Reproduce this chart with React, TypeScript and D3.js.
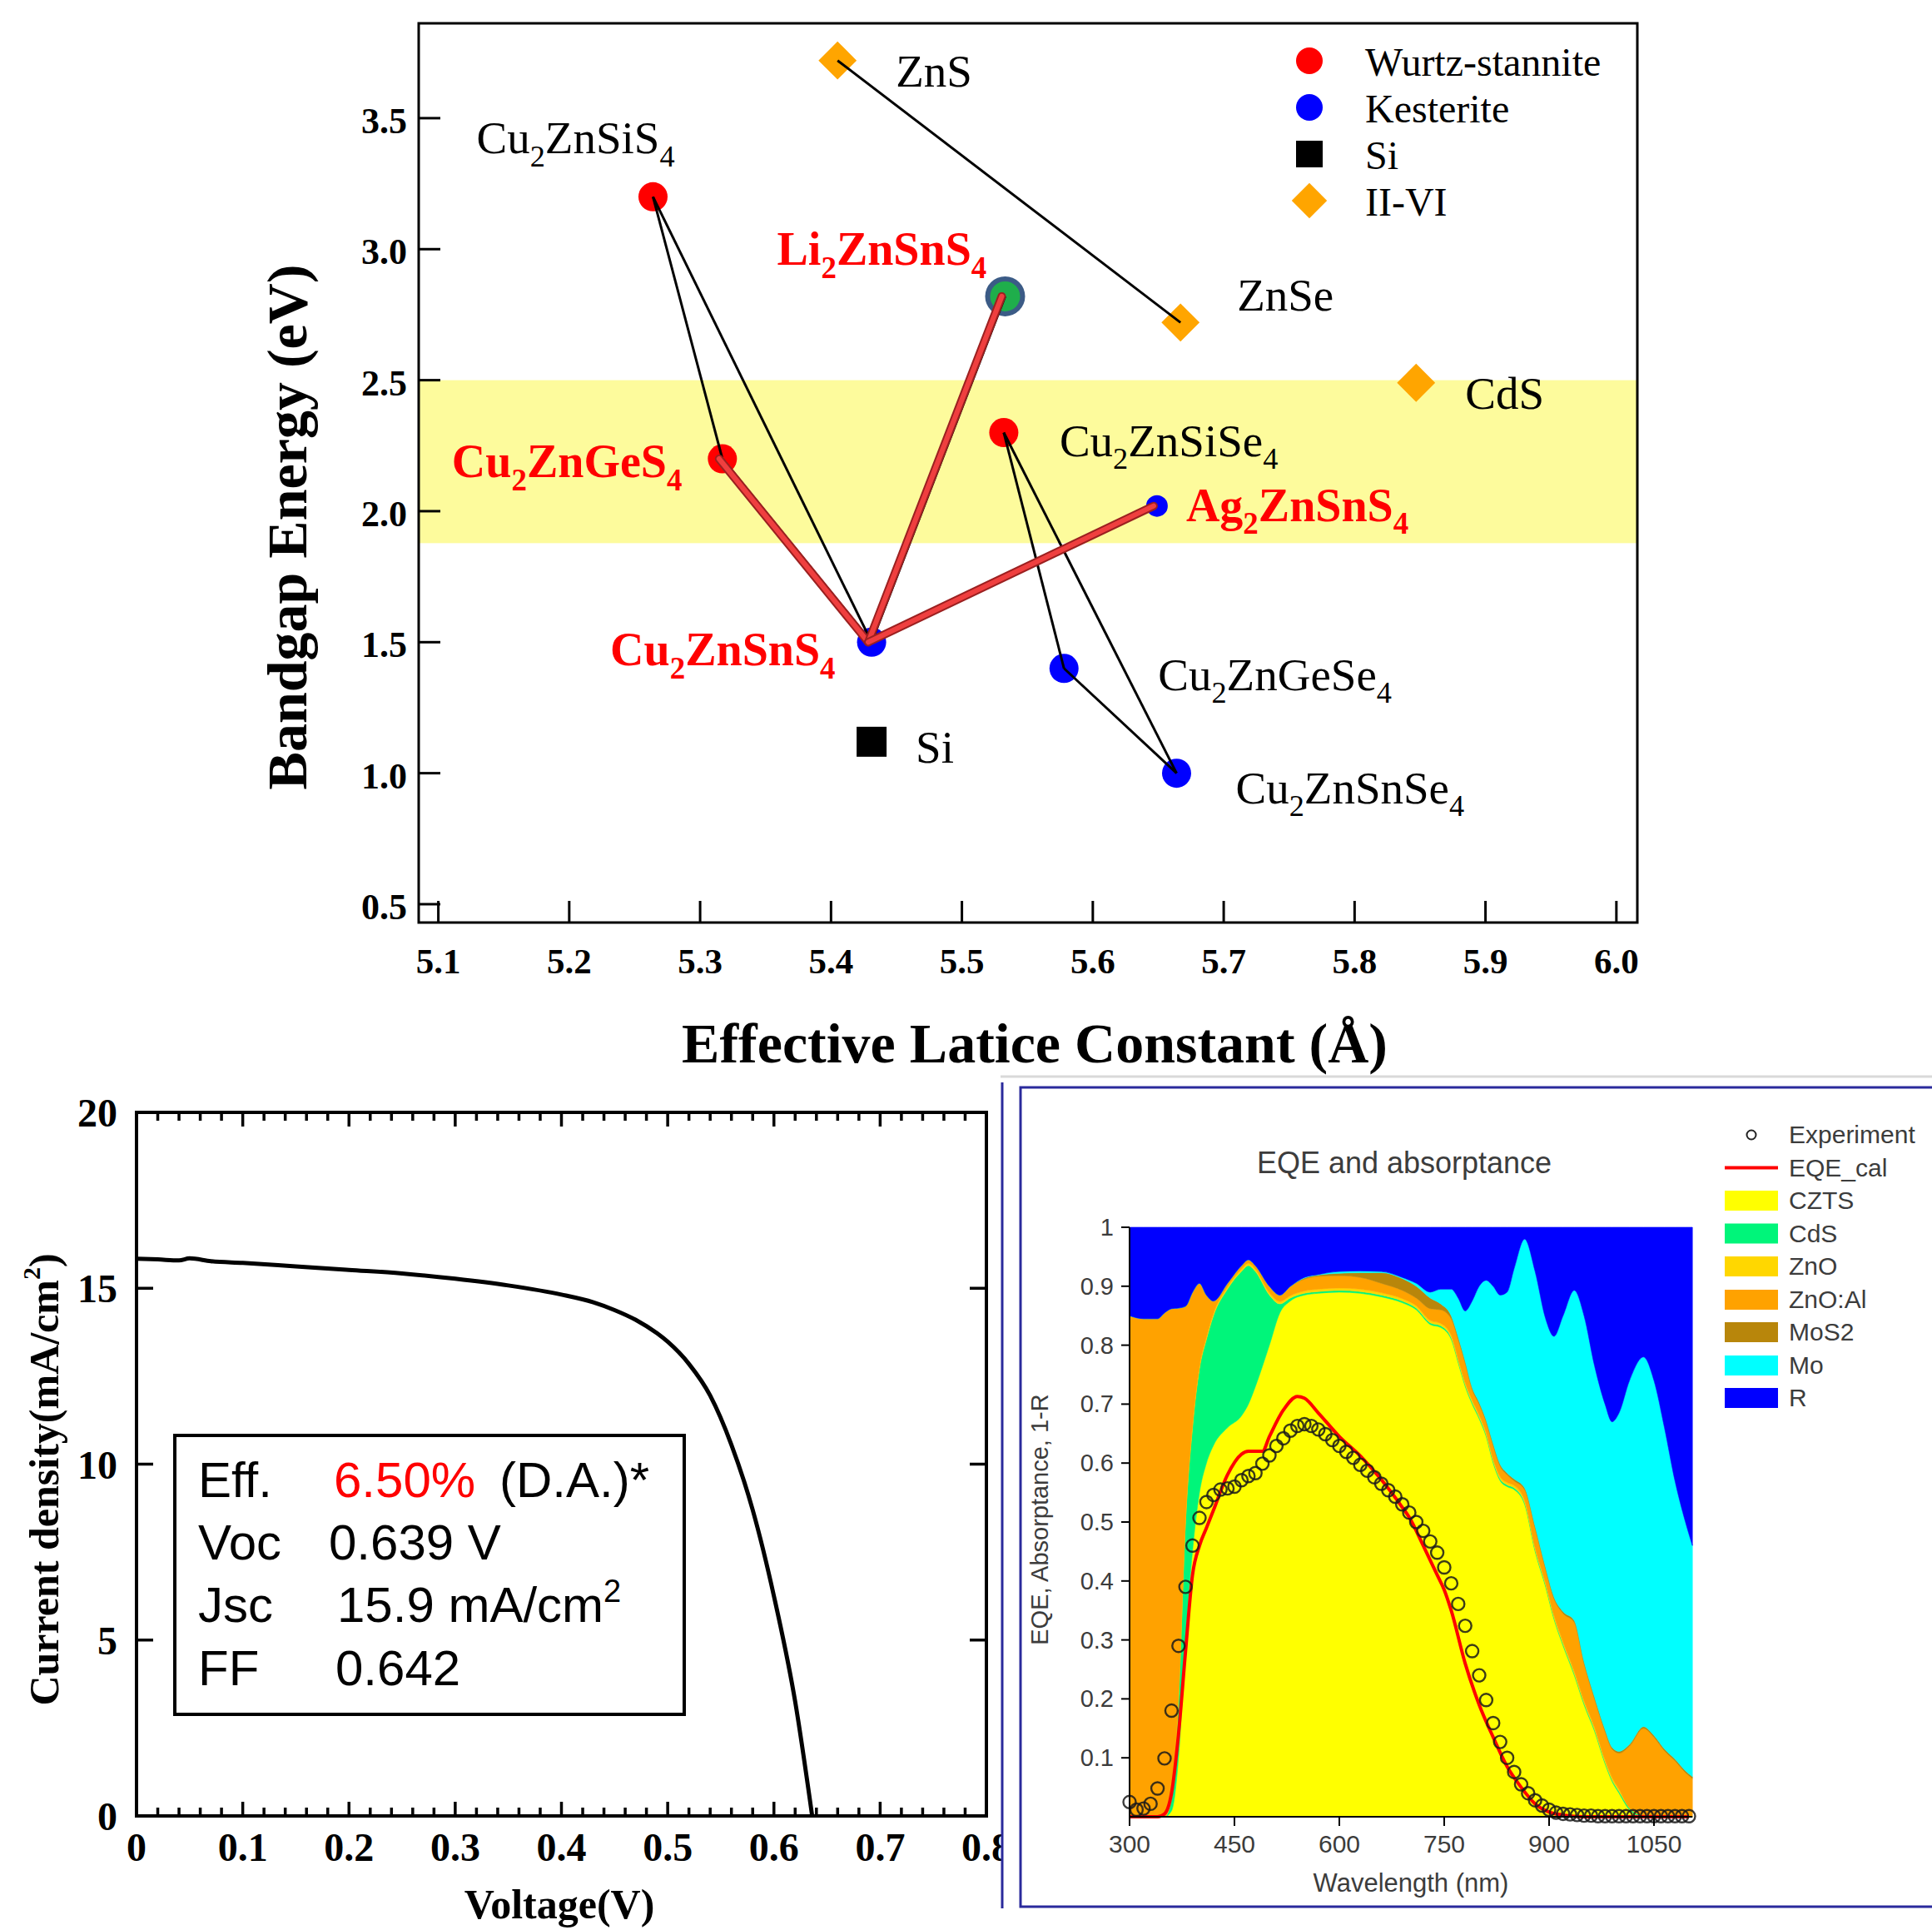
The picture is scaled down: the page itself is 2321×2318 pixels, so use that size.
import React from "react";
import * as d3 from "d3";

const W = 2321;
const H = 2318;
const SERIF = "'Liberation Serif', 'Times New Roman', serif";
const SANS = "'Liberation Sans', Arial, sans-serif";

/* ---------------- Top chart: bandgap vs effective lattice constant ---------------- */
const compounds = ["ZnS", "ZnSe", "CdS", "Cu2ZnSiS4", "Cu2ZnGeS4", "Li2ZnSnS4", "Cu2ZnSiSe4", "Ag2ZnSnS4", "Cu2ZnSnS4", "Cu2ZnGeSe4", "Cu2ZnSnSe4", "Si"];
const latticeConstant = [5.405, 5.667, 5.847, 5.264, 5.317, 5.533, 5.532, 5.649, 5.431, 5.578, 5.664, 5.431];
const bandgapEnergy = [3.72, 2.72, 2.49, 3.2, 2.2, 2.82, 2.3, 2.02, 1.5, 1.4, 1.0, 1.12];
const structureType = ["II-VI", "II-VI", "II-VI", "Wurtz-stannite", "Wurtz-stannite", "Li", "Wurtz-stannite", "Kesterite", "Kesterite", "Kesterite", "Kesterite", "Si"];
const highlighted = ["Cu2ZnGeS4", "Li2ZnSnS4", "Ag2ZnSnS4", "Cu2ZnSnS4"];
const blackLinks = [["ZnS", "ZnSe"], ["Cu2ZnSiS4", "Cu2ZnGeS4"], ["Cu2ZnSiS4", "Cu2ZnSnS4"], ["Cu2ZnGeS4", "Cu2ZnSnS4"], ["Cu2ZnSnS4", "Li2ZnSnS4"], ["Cu2ZnSiSe4", "Cu2ZnGeSe4"], ["Cu2ZnSiSe4", "Cu2ZnSnSe4"], ["Cu2ZnGeSe4", "Cu2ZnSnSe4"]];
const redLinks = [["Cu2ZnGeS4", "Cu2ZnSnS4"], ["Cu2ZnSnS4", "Li2ZnSnS4"], ["Cu2ZnSnS4", "Ag2ZnSnS4"]];
const bandgapTicks = [0.5, 1.0, 1.5, 2.0, 2.5, 3.0, 3.5];
const latticeTicks = [5.1, 5.2, 5.3, 5.4, 5.5, 5.6, 5.7, 5.8, 5.9, 6.0];
const targetBand = [1.878, 2.5];
const topLegend = ["Wurtz-stannite", "Kesterite", "Si", "II-VI"];

// label placement (pixel offsets from the point) — styling only
const labelOffset: Record<string, [number, number]> = {
  ZnS: [70, 31], ZnSe: [68, -14], CdS: [59, 31], Cu2ZnSiS4: [-212, -52], Cu2ZnGeS4: [-325, 22],
  Li2ZnSnS4: [-274, -38], Cu2ZnSiSe4: [67, 28], Ag2ZnSnS4: [35, 18], Cu2ZnSnS4: [-314, 28],
  Cu2ZnGeSe4: [113, 26], Cu2ZnSnSe4: [71, 36], Si: [53, 25],
};

/* ---------------- J-V curve ---------------- */
const voltage = [0, 0.02, 0.04, 0.05, 0.07, 0.1, 0.15, 0.2, 0.25, 0.3, 0.35, 0.4, 0.43, 0.45, 0.47, 0.49, 0.5, 0.52, 0.54, 0.56, 0.58, 0.6, 0.62, 0.636];
const currentDensity = [15.84, 15.82, 15.79, 15.85, 15.77, 15.72, 15.62, 15.52, 15.42, 15.27, 15.08, 14.82, 14.6, 14.38, 14.1, 13.72, 13.48, 12.85, 11.95, 10.55, 8.7, 6.25, 3.25, 0];
const jvXTicks = [0, 0.1, 0.2, 0.3, 0.4, 0.5, 0.6, 0.7, 0.8];
const jvYTicks = [0, 5, 10, 15, 20];

/* ---------------- EQE and absorptance ---------------- */
const wavelength = [300, 320, 340, 350, 360, 370, 380, 390, 400, 410, 420, 440, 460, 470, 480, 500, 515, 530, 550, 570, 600, 630, 660, 690, 710, 730, 745, 760, 770, 780, 790, 800, 810, 820, 830, 840, 850, 865, 880, 895, 907, 920, 936, 950, 965, 980, 990, 1000, 1015, 1035, 1050, 1065, 1080, 1095, 1105];
const absCZTS = [0, 0, 0, 0, 0.01, 0.1, 0.3, 0.45, 0.55, 0.6, 0.63, 0.66, 0.68, 0.7, 0.73, 0.8, 0.855, 0.875, 0.885, 0.888, 0.89, 0.888, 0.882, 0.872, 0.86, 0.835, 0.83, 0.81, 0.77, 0.73, 0.7, 0.675, 0.645, 0.6, 0.57, 0.56, 0.555, 0.53, 0.45, 0.39, 0.335, 0.29, 0.24, 0.19, 0.145, 0.09, 0.06, 0.04, 0.012, 0, 0, 0, 0, 0, 0];
const absCdS = [0, 0, 0, 0, 0.02, 0.1, 0.2, 0.21, 0.21, 0.21, 0.22, 0.235, 0.245, 0.235, 0.195, 0.085, 0.015, 0.005, 0.003, 0.003, 0.003, 0.003, 0.003, 0.003, 0.003, 0.003, 0.003, 0.003, 0.003, 0.003, 0.003, 0.003, 0.003, 0.003, 0.003, 0.003, 0.003, 0.003, 0.003, 0.003, 0.003, 0.003, 0.003, 0.003, 0.003, 0.003, 0.003, 0.003, 0.003, 0.002, 0, 0, 0, 0, 0];
const absZnO = [0, 0, 0, 0, 0.004, 0.004, 0.004, 0.004, 0.004, 0.004, 0.004, 0.004, 0.004, 0.004, 0.004, 0.004, 0.004, 0.004, 0.004, 0.004, 0.004, 0.004, 0.004, 0.004, 0.004, 0.004, 0.004, 0.004, 0.004, 0.004, 0.004, 0.004, 0.004, 0.004, 0.004, 0.004, 0.004, 0.004, 0.004, 0.004, 0.004, 0.004, 0.004, 0.004, 0.004, 0.004, 0.004, 0.004, 0, 0, 0, 0, 0, 0, 0];
const absZnOAl = [0.85, 0.845, 0.845, 0.855, 0.828, 0.659, 0.362, 0.226, 0.141, 0.071, 0.021, 0.006, 0.006, 0.006, 0.006, 0.011, 0.011, 0.016, 0.02, 0.022, 0.021, 0.02, 0.016, 0.014, 0.013, 0.02, 0.023, 0.028, 0.033, 0.033, 0.018, 0.018, 0.018, 0.023, 0.018, 0.013, 0.008, 0.018, 0.033, 0.023, 0.028, 0.048, 0.083, 0.063, 0.048, 0.048, 0.048, 0.061, 0.105, 0.148, 0.135, 0.112, 0.095, 0.075, 0.065];
const absMoS2 = [0, 0, 0, 0, 0, 0, 0, 0, 0, 0, 0, 0, 0, 0, 0, 0, 0, 0, 0.002, 0.002, 0.004, 0.008, 0.018, 0.02, 0.02, 0.018, 0.01, 0.005, 0.004, 0.003, 0.003, 0.003, 0.003, 0.003, 0.003, 0.003, 0.003, 0.003, 0.003, 0.003, 0.003, 0.003, 0.003, 0.003, 0.003, 0.003, 0.003, 0.003, 0.003, 0.003, 0.003, 0.003, 0.003, 0.003, 0.003];
const absMo = [0, 0, 0, 0, 0, 0, 0, 0, 0, 0, 0, 0, 0, 0, 0, 0, 0, 0, 0.001, 0.001, 0.003, 0.003, 0.002, 0.002, 0.005, 0.01, 0.025, 0.045, 0.066, 0.085, 0.147, 0.197, 0.237, 0.267, 0.287, 0.307, 0.357, 0.422, 0.432, 0.422, 0.442, 0.502, 0.56, 0.587, 0.562, 0.552, 0.552, 0.574, 0.617, 0.627, 0.602, 0.545, 0.472, 0.422, 0.392];
const reflectance = [0.15, 0.155, 0.155, 0.145, 0.138, 0.137, 0.134, 0.11, 0.095, 0.115, 0.125, 0.095, 0.065, 0.055, 0.065, 0.1, 0.115, 0.1, 0.085, 0.08, 0.075, 0.074, 0.075, 0.085, 0.095, 0.11, 0.105, 0.105, 0.12, 0.142, 0.125, 0.1, 0.09, 0.1, 0.115, 0.11, 0.07, 0.02, 0.075, 0.155, 0.185, 0.15, 0.107, 0.15, 0.235, 0.3, 0.33, 0.315, 0.26, 0.22, 0.26, 0.34, 0.43, 0.5, 0.54];

const calWavelength = [300, 340, 350, 360, 370, 380, 390, 400, 410, 420, 440, 460, 470, 480, 490, 500, 520, 540, 550, 570, 600, 630, 660, 690, 700, 720, 740, 750, 760, 780, 800, 820, 840, 860, 880, 900, 920, 950, 1000, 1100];
const eqeCal = [0, 0, 0.005, 0.04, 0.14, 0.28, 0.41, 0.46, 0.49, 0.52, 0.58, 0.615, 0.62, 0.62, 0.62, 0.645, 0.69, 0.713, 0.71, 0.685, 0.645, 0.612, 0.572, 0.525, 0.508, 0.46, 0.41, 0.385, 0.35, 0.26, 0.19, 0.135, 0.085, 0.05, 0.022, 0.008, 0.003, 0, 0, 0];

const expWavelength = [300, 310, 320, 330, 340, 350, 360, 370, 380, 390, 400, 410, 420, 430, 440, 450, 460, 470, 480, 490, 500, 510, 520, 530, 540, 550, 560, 570, 580, 590, 600, 610, 620, 630, 640, 650, 660, 670, 680, 690, 700, 710, 720, 730, 740, 750, 760, 770, 780, 790, 800, 810, 820, 830, 840, 850, 860, 870, 880, 890, 900, 910, 920, 930, 940, 950, 960, 970, 980, 990, 1000, 1010, 1020, 1030, 1040, 1050, 1060, 1070, 1080, 1090, 1100];
const expEQE = [0.025, 0.012, 0.014, 0.022, 0.048, 0.099, 0.18, 0.29, 0.39, 0.46, 0.507, 0.534, 0.546, 0.555, 0.557, 0.56, 0.571, 0.578, 0.583, 0.599, 0.613, 0.629, 0.642, 0.655, 0.663, 0.666, 0.663, 0.657, 0.649, 0.639, 0.629, 0.619, 0.609, 0.597, 0.587, 0.576, 0.565, 0.554, 0.543, 0.53, 0.516, 0.5, 0.485, 0.467, 0.448, 0.423, 0.396, 0.361, 0.324, 0.281, 0.24, 0.198, 0.159, 0.127, 0.1, 0.076, 0.055, 0.04, 0.028, 0.019, 0.012, 0.007, 0.005, 0.004, 0.003, 0.002, 0.002, 0.001, 0.001, 0.001, 0.001, 0.001, 0.001, 0.001, 0.001, 0.001, 0.001, 0.001, 0.001, 0.001, 0.001];

const layerKeys = ["CZTS", "CdS", "ZnO", "ZnO:Al", "MoS2", "Mo", "R"];
const layerValues = [absCZTS, absCdS, absZnO, absZnOAl, absMoS2, absMo, reflectance];
const layerColors = ["#ffff00", "#00f57a", "#ffd700", "#ffa200", "#b8860b", "#00ffff", "#0000ff"];
const eqeYTicks = [0.1, 0.2, 0.3, 0.4, 0.5, 0.6, 0.7, 0.8, 0.9, 1];
const eqeXTicks = [300, 450, 600, 750, 900, 1050];

function Formula(props: { x: number; y: number; text: string; size: number; bold?: boolean; fill?: string }) {
  const { x, y, text, size, bold, fill } = props;
  const parts = text.match(/\d+|\D+/g) || [];
  const shift = size * 0.28;
  let down = false;
  return (
    <text x={x} y={y} fontSize={size} fontFamily={SERIF} fontWeight={bold ? "bold" : "normal"} fill={fill || "#000"}>
      {parts.map((p, i) => {
        if (/^\d+$/.test(p)) {
          const el = (
            <tspan key={i} fontSize={size * 0.66} dy={down ? 0 : shift}>
              {p}
            </tspan>
          );
          down = true;
          return el;
        }
        const dy = down ? -shift : 0;
        down = false;
        return (
          <tspan key={i} dy={dy}>
            {p}
          </tspan>
        );
      })}
    </text>
  );
}

function TopChart() {
  const x = d3.scaleLinear().domain([5.085, 6.016]).range([503, 1967]);
  const y = d3.scaleLinear().domain([0.43, 3.862]).range([1108, 28]);
  const idx = (n: string) => compounds.indexOf(n);
  const px = (n: string) => x(latticeConstant[idx(n)]);
  const py = (n: string) => y(bandgapEnergy[idx(n)]);
  const diamond = d3.symbol().type(d3.symbolSquare).size(1050)();
  const legendDiamond = d3.symbol().type(d3.symbolSquare).size(900)();
  const [x0, x1] = x.range();
  const [yb, yt] = y.range();

  const marker = (n: string, i: number) => {
    const t = structureType[i];
    const cx = px(n);
    const cy = py(n);
    if (t === "II-VI") return <path key={n} d={diamond!} transform={`translate(${cx},${cy}) rotate(45)`} fill="#ffa500" />;
    if (t === "Si") return <rect key={n} x={cx - 18} y={cy - 18} width={36} height={36} fill="#000" />;
    if (t === "Li")
      return (
        <g key={n}>
          <circle cx={cx} cy={cy} r={24} fill="#3b5b86" />
          <circle cx={cx} cy={cy} r={18} fill="#1fae4b" />
        </g>
      );
    const r = n === "Ag2ZnSnS4" ? 13 : 17.5;
    return <circle key={n} cx={cx} cy={cy} r={r} fill={t === "Kesterite" ? "#0000ff" : "#ff0000"} />;
  };

  return (
    <g>
      <rect x={x0} y={y(targetBand[1])} width={x1 - x0} height={y(targetBand[0]) - y(targetBand[1])} fill="#fdfb9c" />
      {compounds.map(marker)}
      {blackLinks.map(([a, b], i) => (
        <line key={"b" + i} x1={px(a)} y1={py(a)} x2={px(b)} y2={py(b)} stroke="#000" strokeWidth={3} />
      ))}
      <g transform="translate(-4,0)">
        {redLinks.map(([a, b], i) => (
          <g key={"r" + i}>
            <line x1={px(a)} y1={py(a)} x2={px(b)} y2={py(b)} stroke="#9b2020" strokeWidth={10} strokeLinecap="round" />
            <line x1={px(a)} y1={py(a)} x2={px(b)} y2={py(b)} stroke="#ef3f3f" strokeWidth={6} strokeLinecap="round" />
          </g>
        ))}
      </g>
      {compounds.map((n) => {
        const [dx, dy] = labelOffset[n];
        const hl = highlighted.includes(n);
        return <Formula key={"l" + n} x={px(n) + dx} y={py(n) + dy} text={n} size={hl ? 56 : 55} bold={hl} fill={hl ? "#ff0000" : "#000"} />;
      })}
      {/* frame */}
      <rect x={x0} y={yt} width={x1 - x0} height={yb - yt} fill="none" stroke="#000" strokeWidth={3} />
      {latticeTicks.map((t) => (
        <g key={"xt" + t}>
          <line x1={x(t)} x2={x(t)} y1={yb} y2={yb - 26} stroke="#000" strokeWidth={3} />
          <text x={x(t)} y={1169} textAnchor="middle" fontFamily={SERIF} fontWeight="bold" fontSize={43}>
            {t.toFixed(1)}
          </text>
        </g>
      ))}
      {bandgapTicks.map((t) => (
        <g key={"yt" + t}>
          <line x1={x0} x2={x0 + 26} y1={y(t)} y2={y(t)} stroke="#000" strokeWidth={3} />
          <text x={489} y={y(t) + 18} textAnchor="end" fontFamily={SERIF} fontWeight="bold" fontSize={44}>
            {t.toFixed(1)}
          </text>
        </g>
      ))}
      <text x={1243} y={1276} textAnchor="middle" fontFamily={SERIF} fontWeight="bold" fontSize={68}>
        Effective Latice Constant (Å)
      </text>
      <text transform="translate(368,633) rotate(-90)" textAnchor="middle" fontFamily={SERIF} fontWeight="bold" fontSize={68}>
        Bandgap Energy (eV)
      </text>
      {/* legend */}
      {topLegend.map((name, i) => {
        const cy = 73 + i * 56;
        let m;
        if (name === "Wurtz-stannite") m = <circle cx={1573} cy={cy} r={16} fill="#ff0000" />;
        else if (name === "Kesterite") m = <circle cx={1573} cy={cy} r={16} fill="#0000ff" />;
        else if (name === "Si") m = <rect x={1557} y={cy - 16} width={32} height={32} fill="#000" />;
        else m = <path d={legendDiamond!} transform={`translate(1573,${cy}) rotate(45)`} fill="#ffa500" />;
        return (
          <g key={name}>
            {m}
            <text x={1640} y={cy + 18} fontFamily={SERIF} fontSize={48}>
              {name}
            </text>
          </g>
        );
      })}
    </g>
  );
}

function JVChart() {
  const x = d3.scaleLinear().domain([0, 0.8]).range([164, 1185]);
  const y = d3.scaleLinear().domain([0, 20]).range([2181, 1336]);
  const line = d3
    .line<number>()
    .x((_, i) => x(voltage[i]))
    .y((d) => y(d))
    .curve(d3.curveMonotoneX);
  const minor = x.ticks(40);
  const [x0, x1] = x.range();
  const [yb, yt] = y.range();
  return (
    <g>
      <path d={line(currentDensity)!} fill="none" stroke="#000" strokeWidth={5} strokeLinejoin="round" />
      <rect x={x0} y={yt} width={x1 - x0} height={yb - yt} fill="none" stroke="#000" strokeWidth={4} />
      {minor.map((t) => {
        const major = jvXTicks.some((m) => Math.abs(m - t) < 1e-6);
        const len = major ? 17 : 10;
        return (
          <g key={"m" + t}>
            <line x1={x(t)} x2={x(t)} y1={yb} y2={yb - len} stroke="#000" strokeWidth={3.5} />
            <line x1={x(t)} x2={x(t)} y1={yt} y2={yt + len} stroke="#000" strokeWidth={3.5} />
          </g>
        );
      })}
      {jvYTicks.map((t) => (
        <g key={"y" + t}>
          <line x1={x0} x2={x0 + 20} y1={y(t)} y2={y(t)} stroke="#000" strokeWidth={3.5} />
          <line x1={x1} x2={x1 - 20} y1={y(t)} y2={y(t)} stroke="#000" strokeWidth={3.5} />
          <text x={141} y={y(t) + 17} textAnchor="end" fontFamily={SERIF} fontWeight="bold" fontSize={48}>
            {t}
          </text>
        </g>
      ))}
      {jvXTicks.map((t) => (
        <text key={"xl" + t} x={x(t)} y={2235} textAnchor="middle" fontFamily={SERIF} fontWeight="bold" fontSize={48}>
          {t === 0 ? "0" : t.toFixed(1)}
        </text>
      ))}
      <text x={672} y={2304} textAnchor="middle" fontFamily={SERIF} fontWeight="bold" fontSize={50}>
        Voltage(V)
      </text>
      <text transform="translate(70,1777) rotate(-90)" textAnchor="middle" fontFamily={SERIF} fontWeight="bold" fontSize={50}>
        Current density(mA/cm
        <tspan fontSize={30} dy={-22}>
          2
        </tspan>
        <tspan dy={22}>)</tspan>
      </text>
      {/* parameter box */}
      <rect x={210} y={1724} width={612} height={335} fill="#fff" stroke="#000" strokeWidth={4} />
      <g fontFamily={SANS} fontSize={60} fill="#000">
        <text x={238} y={1798}>Eff.</text>
        <text x={401} y={1798} fill="#ff0000">6.50%</text>
        <text x={600} y={1798}>(D.A.)*</text>
        <text x={238} y={1873}>Voc</text>
        <text x={395} y={1873}>0.639 V</text>
        <text x={238} y={1948}>Jsc</text>
        <text x={405} y={1948}>
          15.9 mA/cm
          <tspan fontSize={38} dy={-24}>
            2
          </tspan>
        </text>
        <text x={238} y={2024}>FF</text>
        <text x={403} y={2024}>0.642</text>
      </g>
    </g>
  );
}

function EQEChart() {
  const x = d3.scaleLinear().domain([300, 1050]).range([1357, 1987]);
  const y = d3.scaleLinear().domain([0, 1]).range([2182, 1474]);
  const rows = wavelength.map((w, i) => {
    const r: any = { w };
    layerKeys.forEach((k, j) => (r[k] = layerValues[j][i]));
    return r;
  });
  const stack = d3.stack<any>().keys(layerKeys)(rows);
  const area = d3
    .area<any>()
    .x((d) => x(d.data.w))
    .y0((d) => y(d[0]))
    .y1((d) => y(d[1]))
    .curve(d3.curveMonotoneX);
  const calLine = d3
    .line<number>()
    .x((_, i) => x(calWavelength[i]))
    .y((d) => y(d))
    .curve(d3.curveMonotoneX);
  const textColor = "#3c3c3c";
  const legendY = [1363, 1402.5, 1442, 1481.5, 1521, 1561, 1600, 1640, 1679];
  const legendNames = ["Experiment", "EQE_cal", ...layerKeys];
  const xEnd = x(wavelength[wavelength.length - 1]);
  return (
    <g>
      {/* window frame */}
      <rect x={1204} y={1292} width={W - 1204} height={H - 1292} fill="#fff" />
      <line x1={1202} x2={W} y1={1293} y2={1293} stroke="#d9d9d9" strokeWidth={3} />
      <line x1={1204} x2={1204} y1={1300} y2={2292} stroke="#2a2a9c" strokeWidth={3} />
      <path d={`M${W},1306 H1226 V2290 H${W}`} fill="none" stroke="#2a2a9c" strokeWidth={3} />

      <text x={1687} y={1409} textAnchor="middle" fontFamily={SANS} fontSize={36} fill={textColor}>
        EQE and absorptance
      </text>
      {stack.map((s, i) => (
        <path key={s.key} d={area(s as any)!} fill={layerColors[i]} stroke={layerColors[i]} strokeWidth={0.6} />
      ))}
      <path d={calLine(eqeCal)!} fill="none" stroke="#ff0000" strokeWidth={4} />
      {expEQE.map((v, i) => (
        <circle key={"e" + i} cx={x(expWavelength[i])} cy={y(v)} r={7.5} fill="none" stroke="#1a1a1a" strokeWidth={2.4} opacity={0.85} />
      ))}
      {/* axes */}
      <line x1={1357} x2={1357} y1={y(1)} y2={y(0)} stroke="#000" strokeWidth={2} />
      <line x1={1357} x2={xEnd} y1={y(0)} y2={y(0)} stroke="#000" strokeWidth={2} />
      {eqeYTicks.map((t) => (
        <g key={"yt" + t}>
          <line x1={1347} x2={1357} y1={y(t)} y2={y(t)} stroke="#000" strokeWidth={2} />
          <text x={1338} y={y(t) + 10} textAnchor="end" fontFamily={SANS} fontSize={29} fill={textColor}>
            {t === 1 ? "1" : t.toFixed(1)}
          </text>
        </g>
      ))}
      {eqeXTicks.map((t) => (
        <g key={"xt" + t}>
          <line x1={x(t)} x2={x(t)} y1={y(0)} y2={y(0) + 11} stroke="#000" strokeWidth={2} />
          <text x={x(t)} y={2225} textAnchor="middle" fontFamily={SANS} fontSize={30} fill={textColor}>
            {t}
          </text>
        </g>
      ))}
      <text x={1695} y={2272} textAnchor="middle" fontFamily={SANS} fontSize={31} fill={textColor}>
        Wavelength (nm)
      </text>
      <text transform="translate(1259,1825) rotate(-90)" textAnchor="middle" fontFamily={SANS} fontSize={29} fill={textColor}>
        EQE, Absorptance, 1-R
      </text>
      {/* legend */}
      {legendNames.map((n, i) => {
        const cy = legendY[i];
        let m;
        if (n === "Experiment") m = <circle cx={2104} cy={cy} r={5.5} fill="none" stroke="#222" strokeWidth={2} />;
        else if (n === "EQE_cal") m = <line x1={2072} x2={2136} y1={cy} y2={cy} stroke="#ff0000" strokeWidth={4} />;
        else m = <rect x={2072} y={cy - 12} width={64} height={24} fill={layerColors[layerKeys.indexOf(n)]} />;
        return (
          <g key={n}>
            {m}
            <text x={2149} y={cy + 10} fontFamily={SANS} fontSize={30} fill={textColor}>
              {n}
            </text>
          </g>
        );
      })}
    </g>
  );
}

export default function App() {
  return (
    <svg width={W} height={H} viewBox={`0 0 ${W} ${H}`} style={{ position: "absolute", left: 0, top: 0, background: "#fff" }}>
      <rect x={0} y={0} width={W} height={H} fill="#fff" />
      <TopChart />
      <JVChart />
      <EQEChart />
    </svg>
  );
}
